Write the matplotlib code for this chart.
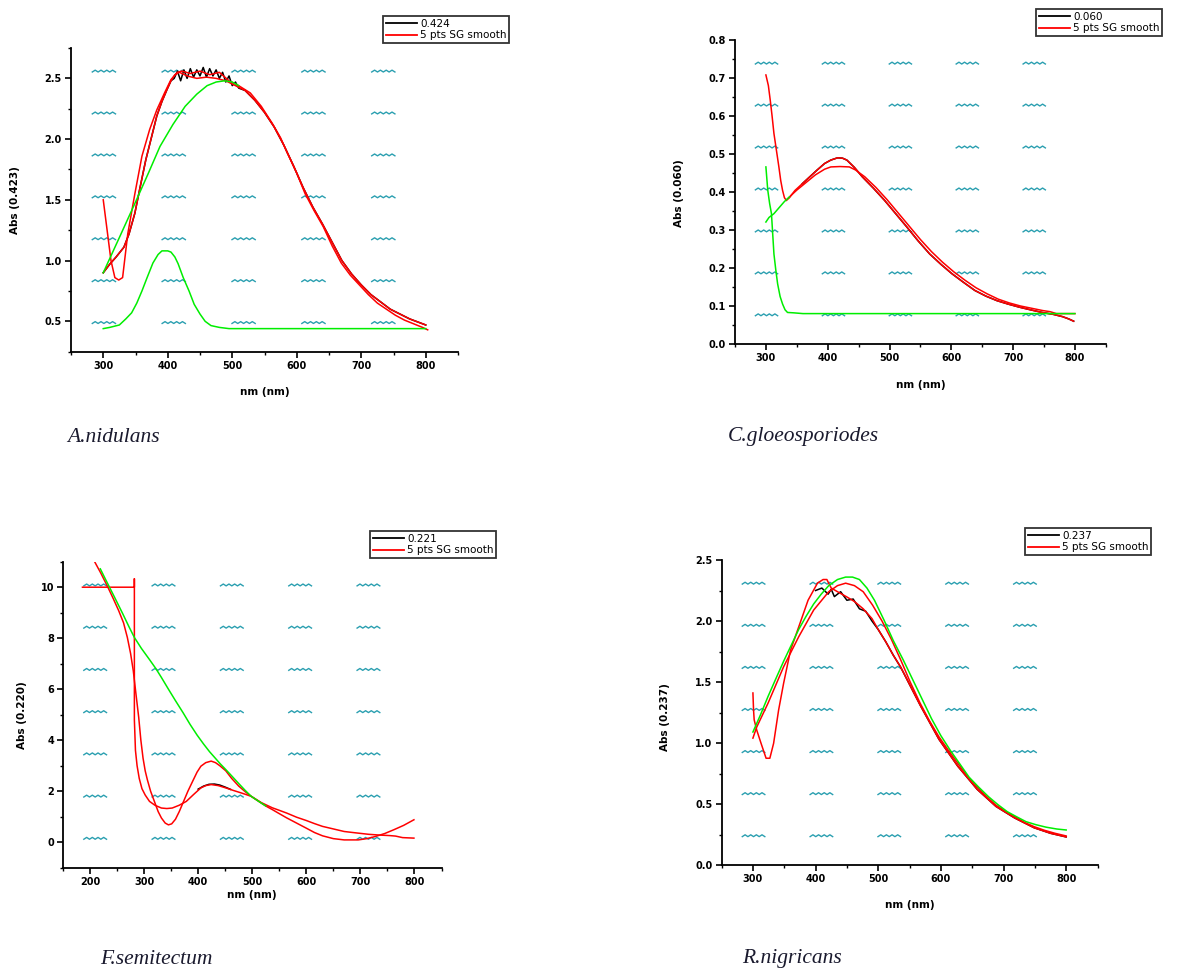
import matplotlib
matplotlib.use("Agg")
import matplotlib.pyplot as plt
import numpy as np
from matplotlib.ticker import MultipleLocator, FormatStrFormatter
from matplotlib.lines import Line2D

# ---------------- Panel 1 : A.nidulans ----------------
p1_red1_x = [300, 306, 312, 318, 324, 330, 338, 349, 360, 372, 383, 395, 405, 415, 422, 435, 450, 465, 480,
             495, 510, 528, 545, 562, 575, 585, 600, 613, 627, 641, 655, 669, 683, 697, 711, 725, 739, 753,
             767, 781, 795, 803]
p1_red1_y = [1.50, 1.25, 1.00, 0.86, 0.84, 0.86, 1.22, 1.55, 1.86, 2.08, 2.24, 2.38, 2.49, 2.55, 2.56, 2.54,
             2.56, 2.53, 2.55, 2.48, 2.44, 2.38, 2.27, 2.13, 2.01, 1.89, 1.72, 1.55, 1.41, 1.28, 1.12, 0.98,
             0.88, 0.80, 0.72, 0.65, 0.60, 0.55, 0.51, 0.48, 0.45, 0.43]
p1_red2_x = [300, 310, 320, 332, 340, 349, 357, 366, 375, 383, 391, 399, 405, 411, 418, 430, 445, 460, 475,
             490, 505, 520, 535, 550, 565, 580, 595, 610, 625, 640, 655, 670, 685, 700, 715, 730, 745, 760,
             775, 790, 800]
p1_red2_y = [0.90, 0.97, 1.03, 1.11, 1.22, 1.39, 1.60, 1.83, 2.02, 2.19, 2.31, 2.41, 2.48, 2.53, 2.55, 2.52,
             2.50, 2.51, 2.50, 2.48, 2.44, 2.40, 2.32, 2.22, 2.10, 1.95, 1.78, 1.60, 1.44, 1.30, 1.15, 1.00,
             0.89, 0.80, 0.72, 0.66, 0.60, 0.56, 0.52, 0.49, 0.47]
p1_raw_x = [300, 310, 320, 332, 340, 349, 357, 366, 375, 383, 391, 399, 405, 410, 415, 420, 425, 430, 435,
            440, 445, 450, 455, 460, 465, 470, 475, 480, 485, 490, 495, 500, 505, 510, 520, 535, 550, 565,
            580, 595, 610, 625, 640, 655, 670, 685, 700, 715, 730, 745, 760, 775, 790, 800]
p1_raw_y = [0.90, 0.97, 1.03, 1.11, 1.22, 1.39, 1.60, 1.83, 2.02, 2.19, 2.31, 2.41, 2.48, 2.50, 2.56, 2.48,
            2.57, 2.50, 2.58, 2.51, 2.57, 2.52, 2.59, 2.51, 2.58, 2.52, 2.57, 2.50, 2.55, 2.47, 2.52, 2.44,
            2.47, 2.42, 2.40, 2.32, 2.22, 2.10, 1.95, 1.78, 1.60, 1.44, 1.30, 1.15, 1.00, 0.89, 0.80, 0.72,
            0.66, 0.60, 0.56, 0.52, 0.49, 0.47]
p1_fit1_x = [300, 325, 349, 370, 388, 408, 427, 445, 461, 475, 488, 500, 510]
p1_fit1_y = [0.90, 1.19, 1.47, 1.72, 1.94, 2.12, 2.27, 2.37, 2.44, 2.47, 2.48, 2.47, 2.44]
p1_fit2_x = [300, 310, 325, 335, 344, 352, 360, 368, 377, 385, 391, 400, 405, 411, 416, 424, 433, 441, 450,
             458, 467, 480, 495, 800]
p1_fit2_y = [0.44, 0.45, 0.47, 0.52, 0.57, 0.65, 0.75, 0.86, 0.98, 1.05, 1.08, 1.08, 1.07, 1.03, 0.975,
             0.86, 0.75, 0.64, 0.56, 0.50, 0.465, 0.45, 0.44, 0.44]

# ---------------- Panel 2 : C.gloeosporiodes ----------------
p2_red1_x = [300, 304, 307, 310, 313, 317, 321, 324, 327, 330, 333, 338, 347, 359, 371, 383, 395, 405, 416,
             424, 431, 443, 456, 474, 492, 510, 528, 546, 565, 583, 601, 620, 638, 656, 674, 692, 710, 728,
             747, 765, 780, 790, 798]
p2_red1_y = [0.708, 0.68, 0.642, 0.60, 0.554, 0.51, 0.466, 0.43, 0.404, 0.385, 0.378, 0.385, 0.404, 0.422,
             0.44, 0.458, 0.475, 0.484, 0.49, 0.489, 0.484, 0.465, 0.44, 0.41, 0.378, 0.343, 0.308, 0.272,
             0.237, 0.21, 0.185, 0.162, 0.141, 0.126, 0.114, 0.105, 0.097, 0.09, 0.083, 0.078, 0.072,
             0.066, 0.06]
p2_red2_x = [333, 340, 350, 365, 380, 395, 405, 420, 435, 445, 460, 478, 496, 514, 532, 550, 568, 586, 604,
             622, 640, 658, 676, 694, 712, 730, 748, 760, 770, 800]
p2_red2_y = [0.378, 0.39, 0.405, 0.425, 0.445, 0.46, 0.466, 0.467, 0.466, 0.458, 0.44, 0.412, 0.38, 0.345,
             0.31, 0.275, 0.243, 0.215, 0.19, 0.168, 0.148, 0.132, 0.118, 0.108, 0.10, 0.094, 0.088, 0.085,
             0.08, 0.08]
p2_raw_x = [359, 371, 383, 395, 405, 416, 424, 431, 443, 456, 474, 492, 510, 528, 546, 565, 583, 601, 620,
            638, 656, 674, 692, 710, 728, 747, 765, 780, 790, 798]
p2_raw_y = [0.422, 0.44, 0.458, 0.475, 0.484, 0.49, 0.489, 0.484, 0.465, 0.44, 0.41, 0.378, 0.343, 0.308,
            0.272, 0.237, 0.21, 0.185, 0.162, 0.141, 0.126, 0.114, 0.105, 0.097, 0.09, 0.083, 0.078, 0.072,
            0.066, 0.06]
p2_fit1_x = [300, 303, 306, 309, 311, 313, 316, 319, 323, 327, 331, 335, 345, 360, 800]
p2_fit1_y = [0.466, 0.405, 0.37, 0.343, 0.29, 0.237, 0.195, 0.158, 0.125, 0.105, 0.09, 0.083, 0.082,
             0.08, 0.08]
p2_fit2_x = [300, 305, 313, 322, 330, 338]
p2_fit2_y = [0.321, 0.333, 0.343, 0.36, 0.375, 0.387]

# ---------------- Panel 3 : F.semitectum ----------------
p3_red1_x = [209, 220, 233, 243, 253, 262, 269, 275, 280, 285, 290, 294, 298, 302, 306, 312, 319, 326, 332,
             339, 345, 351, 358, 365, 372, 381, 390, 398, 405, 414, 424, 432, 440, 451, 462, 475, 487, 498,
             512, 525, 537, 550, 564, 582, 600, 615, 630, 650, 670, 696, 712, 727, 745, 762, 780, 799]
p3_red1_y = [10.98, 10.55, 10.0, 9.55, 9.08, 8.6, 8.03, 7.4, 6.72, 5.8, 4.9, 4.0, 3.3, 2.8, 2.45, 2.0, 1.6,
             1.2, 0.95, 0.75, 0.68, 0.72, 0.9, 1.2, 1.55, 2.0, 2.4, 2.75, 2.98, 3.12, 3.18, 3.12, 3.0, 2.8,
             2.5, 2.2, 1.98, 1.8, 1.6, 1.42, 1.28, 1.12, 0.95, 0.75, 0.55, 0.38, 0.25, 0.14, 0.09, 0.09,
             0.14, 0.22, 0.34, 0.49, 0.66, 0.88]
p3_red2_x = [186, 282, 282, 282, 284, 287, 291, 296, 302, 310, 320, 332, 342, 352, 365, 378, 392, 405, 414,
             424, 437, 451, 465, 480, 498, 517, 537, 550, 564, 582, 600, 615, 630, 650, 670, 690, 715, 735,
             754, 765, 778, 799]
p3_red2_y = [10.0, 10.0, 10.33, 4.8, 3.6, 3.0, 2.5, 2.1, 1.85, 1.6, 1.45, 1.34, 1.32, 1.34, 1.45, 1.6,
             1.88, 2.13, 2.22, 2.26, 2.22, 2.13, 2.03, 1.93, 1.8, 1.55, 1.35, 1.25, 1.14, 0.98, 0.85, 0.73,
             0.62, 0.52, 0.42, 0.37, 0.31, 0.28, 0.26, 0.24, 0.18, 0.16]
p3_raw_x = [400, 410, 420, 430, 440, 450, 460]
p3_raw_y = [2.08, 2.2, 2.27, 2.28, 2.24, 2.16, 2.07]
p3_fit_x = [219, 230, 245, 260, 272, 282, 295, 310, 322, 332, 345, 358, 372, 385, 398, 410, 421, 431, 441,
            451, 462, 475, 487, 498, 512, 525]
p3_fit_y = [10.72, 10.25, 9.62, 8.98, 8.45, 8.03, 7.6, 7.16, 6.8, 6.46, 6.0, 5.55, 5.08, 4.62, 4.2, 3.85,
            3.55, 3.31, 3.07, 2.85, 2.6, 2.3, 2.03, 1.8, 1.6, 1.42]

# ---------------- Panel 4 : R.nigricans ----------------
p4_red1_x = [300, 301, 302, 306, 313, 321, 327, 333, 341, 349, 360, 373, 388, 403, 412, 418, 425, 435, 449,
             462, 476, 490, 500, 512, 524, 536, 567, 597, 627, 658, 688, 718, 749, 775, 800]
p4_red1_y = [1.41, 1.27, 1.19, 1.107, 0.997, 0.875, 0.875, 0.997, 1.27, 1.49, 1.76, 1.95, 2.17, 2.31, 2.34,
             2.34, 2.27, 2.24, 2.20, 2.16, 2.10, 2.02, 1.93, 1.83, 1.72, 1.62, 1.31, 1.03, 0.81, 0.62, 0.48,
             0.385, 0.305, 0.26, 0.23]
p4_red2_x = [300, 306, 324, 349, 373, 397, 421, 435, 448, 462, 476, 491, 506, 521, 536, 551, 567, 582, 597,
             612, 627, 642, 658, 673, 688, 703, 718, 733, 749, 765, 782, 800]
p4_red2_y = [1.04, 1.13, 1.325, 1.625, 1.87, 2.09, 2.24, 2.29, 2.31, 2.29, 2.24, 2.13, 2.0, 1.85, 1.68,
             1.5, 1.325, 1.18, 1.05, 0.94, 0.834, 0.73, 0.64, 0.56, 0.49, 0.44, 0.396, 0.35, 0.314, 0.285,
             0.26, 0.238]
p4_raw_x = [400, 410, 420, 425, 430, 440, 450, 460, 470, 480, 490, 500, 512, 524, 536, 567, 597, 627, 658,
            688, 718, 749, 775, 800]
p4_raw_y = [2.25, 2.27, 2.22, 2.26, 2.20, 2.24, 2.17, 2.18, 2.10, 2.08, 2.00, 1.93, 1.83, 1.72, 1.62, 1.31,
            1.03, 0.81, 0.62, 0.48, 0.385, 0.305, 0.26, 0.23]
p4_fit_x = [300, 312, 324, 336, 349, 361, 373, 385, 397, 409, 421, 435, 448, 459, 470, 482, 494, 509, 524,
            540, 555, 570, 585, 600, 615, 630, 645, 660, 676, 691, 706, 721, 736, 752, 768, 785, 800]
p4_fit_y = [1.09, 1.23, 1.38, 1.52, 1.67, 1.80, 1.93, 2.04, 2.14, 2.22, 2.29, 2.34, 2.36, 2.36, 2.34, 2.27,
            2.17, 2.01, 1.84, 1.68, 1.52, 1.36, 1.20, 1.06, 0.94, 0.83, 0.72, 0.64, 0.56, 0.495, 0.437,
            0.395, 0.355, 0.33, 0.31, 0.295, 0.287]

legend_values = ["0.424", "0.060", "0.221", "0.237"]
y_labels = ["Abs (0.423)", "Abs (0.060)", "Abs (0.220)", "Abs (0.237)"]
x_label = "nm (nm)"
captions = ["A.nidulans", "C.gloeosporiodes", "F.semitectum", "R.nigricans"]

RED = "#ff0000"
GREEN = "#00ee00"
TEAL = "#2a9fb0"

W, H = 1189, 976
fig = plt.figure(figsize=(W / 100, H / 100), dpi=100)


def px_rect(left, top, right, bottom):
    return [left / W, 1 - bottom / H, (right - left) / W, (bottom - top) / H]


def setup(ax, xlim, ylim, xmaj, ymaj, yfmt, ylab, ylab_pos, xlab_pos):
    ax.set_xlim(*xlim)
    ax.set_ylim(*ylim)
    for s in ("top", "right"):
        ax.spines[s].set_visible(False)
    for s in ("left", "bottom"):
        ax.spines[s].set_linewidth(1.3)
    ax.xaxis.set_major_locator(MultipleLocator(xmaj))
    ax.xaxis.set_minor_locator(MultipleLocator(xmaj / 2))
    ax.yaxis.set_major_locator(MultipleLocator(ymaj))
    ax.yaxis.set_minor_locator(MultipleLocator(ymaj / 2))
    ax.yaxis.set_major_formatter(FormatStrFormatter(yfmt))
    ax.tick_params(which="major", direction="out", length=4.5, width=1.2, labelsize=7, pad=2)
    ax.tick_params(which="minor", direction="out", length=2.5, width=1.0)
    for lab in ax.get_xticklabels() + ax.get_yticklabels():
        lab.set_fontweight("bold")
    ax.set_ylabel(ylab, fontsize=7.5, fontweight="bold")
    ax.yaxis.set_label_coords(*ylab_pos)
    ax.set_xlabel(x_label, fontsize=7.5, fontweight="bold")
    ax.xaxis.set_label_coords(*xlab_pos)
    # teal placeholder marks
    for xf in 0.085 + 0.1805 * np.arange(5):
        for yf in 0.093 + 0.138 * np.arange(7):
            zx = xf - 0.03 + 0.06 * np.arange(9) / 8
            zy = yf + 0.006 * (np.arange(9) % 2)
            ax.plot(zx, zy, color=TEAL, lw=1.0, transform=ax.transAxes, zorder=1, clip_on=False)


def legend(ax, val, left, top):
    handles = [Line2D([], [], color="black", lw=1.3), Line2D([], [], color=RED, lw=1.3)]
    lg = ax.legend(handles, [val, "5 pts SG smooth"], loc="upper left",
                   bbox_to_anchor=(left / W, 1 - top / H), bbox_transform=fig.transFigure,
                   fontsize=7.5, frameon=True, fancybox=False, borderpad=0.25, labelspacing=0.15,
                   handlelength=3.0, handletextpad=0.3, borderaxespad=0)
    lg.get_frame().set_edgecolor("black")
    lg.get_frame().set_linewidth(1.3)


LW = 1.1

# Panel 1
ax1 = fig.add_axes(px_rect(71, 48, 458, 351.7))
setup(ax1, (250, 850), (0.25, 2.75), 100, 0.5, "%.1f", y_labels[0], (-0.132, 0.5), (0.5, -0.115))
ax1.plot(p1_raw_x, p1_raw_y, color="black", lw=LW, zorder=2)
ax1.plot(p1_red1_x, p1_red1_y, color=RED, lw=LW, zorder=3)
ax1.plot(p1_red2_x, p1_red2_y, color=RED, lw=LW, zorder=3)
ax1.plot(p1_fit1_x, p1_fit1_y, color=GREEN, lw=LW, zorder=4)
ax1.plot(p1_fit2_x, p1_fit2_y, color=GREEN, lw=LW, zorder=4)
legend(ax1, legend_values[0], 383, 16)

# Panel 2
ax2 = fig.add_axes(px_rect(735, 40, 1105.8, 344))
setup(ax2, (250, 850), (0.0, 0.8), 100, 0.1, "%.1f", y_labels[1], (-0.1375, 0.497), (0.5, -0.118))
ax2.plot(p2_raw_x, p2_raw_y, color="black", lw=LW, zorder=2)
ax2.plot(p2_red1_x, p2_red1_y, color=RED, lw=LW, zorder=3)
ax2.plot(p2_red2_x, p2_red2_y, color=RED, lw=LW, zorder=3)
ax2.plot(p2_fit1_x, p2_fit1_y, color=GREEN, lw=LW, zorder=4)
ax2.plot(p2_fit2_x, p2_fit2_y, color=GREEN, lw=LW, zorder=4)
legend(ax2, legend_values[1], 1036, 9)

# Panel 3
ax3 = fig.add_axes(px_rect(63, 561.7, 441.5, 867.7))
setup(ax3, (150, 850), (-1, 11), 100, 2, "%d", y_labels[2], (-0.095, 0.5), (0.5, -0.073))
ax3.plot(p3_raw_x, p3_raw_y, color="black", lw=LW, zorder=2)
ax3.plot(p3_red1_x, p3_red1_y, color=RED, lw=LW, zorder=3)
ax3.plot(p3_red2_x, p3_red2_y, color=RED, lw=LW, zorder=3)
ax3.plot(p3_fit_x, p3_fit_y, color=GREEN, lw=LW, zorder=4)
legend(ax3, legend_values[2], 370, 531)

# Panel 4
ax4 = fig.add_axes(px_rect(721.6, 560, 1097.5, 865))
setup(ax4, (250, 850), (0.0, 2.5), 100, 0.5, "%.1f", y_labels[3], (-0.137, 0.485), (0.5, -0.115))
ax4.plot(p4_raw_x, p4_raw_y, color="black", lw=LW, zorder=2)
ax4.plot(p4_red1_x, p4_red1_y, color=RED, lw=LW, zorder=3)
ax4.plot(p4_red2_x, p4_red2_y, color=RED, lw=LW, zorder=3)
ax4.plot(p4_fit_x, p4_fit_y, color=GREEN, lw=LW, zorder=4)
legend(ax4, legend_values[3], 1025, 528)

# Captions
cap_pos = [(67, 437), (728, 436), (100, 960), (742, 959)]
for txt, (cx, cy) in zip(captions, cap_pos):
    fig.text(cx / W, 1 - cy / H, txt, fontsize=15.5, style="italic", family="Liberation Serif",
             ha="left", va="center", color="#1a1a2e")

fig.savefig("out.png", dpi=100)
